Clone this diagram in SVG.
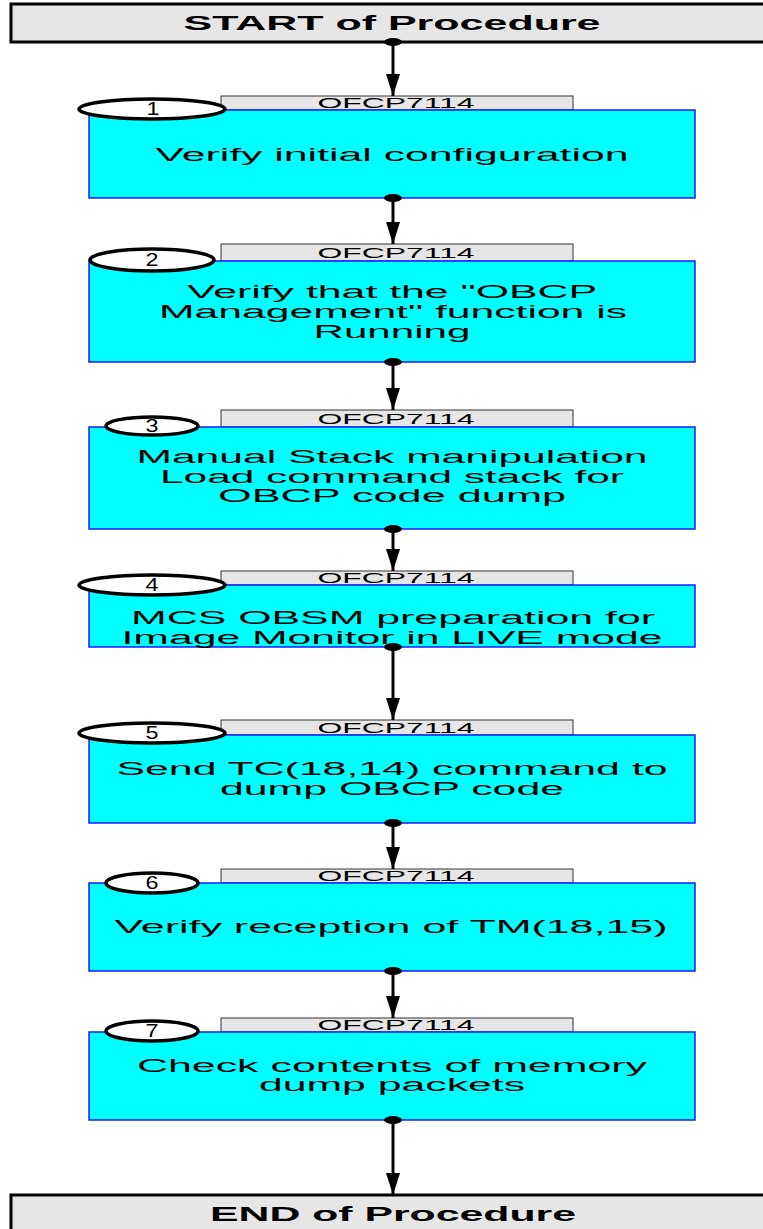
<svg xmlns="http://www.w3.org/2000/svg" width="763" height="1229" viewBox="0 0 763 1229">
<defs>
<marker id="ah" markerWidth="24" markerHeight="14" refX="22" refY="7" orient="auto" markerUnits="userSpaceOnUse">
<path d="M0,0 L22,7 L0,14 Z" fill="#000"/>
</marker>
<style>
.term{fill:#e6e6e6;stroke:#000;stroke-width:3}
.termt{font-family:"Liberation Sans",Arial,sans-serif;font-weight:bold;font-size:20px;text-anchor:middle;fill:#000}
.tab{fill:#e6e6e6;stroke:#333;stroke-width:1}
.tabt{font-family:"Liberation Sans",Arial,sans-serif;font-size:14px;text-anchor:middle;fill:#000}
.box{fill:#00ffff;stroke:#1a1aff;stroke-width:1.5}
.bt{font-family:"Liberation Sans",Arial,sans-serif;font-size:18px;text-anchor:middle;fill:#000}
.num{fill:#fff;stroke:#000;stroke-width:3.5}
.numt{font-family:"Liberation Sans",Arial,sans-serif;font-size:18px;text-anchor:middle;fill:#000}
.con{stroke:#000;stroke-width:3;fill:none}
.dot{fill:#000}
</style>
</defs>

<g id="start">
<rect class="term" x="11" y="4" width="760" height="38"/>
<text class="termt" x="392" y="30" textLength="417" lengthAdjust="spacingAndGlyphs">START of Procedure</text>
</g>

<g id="node1">
<rect class="tab" x="221" y="96" width="352" height="14"/>
<text class="tabt" x="396" y="108" textLength="157" lengthAdjust="spacingAndGlyphs">OFCP7114</text>
<rect class="box" x="89" y="110" width="606" height="88"/>
<text class="bt" x="392" y="161" textLength="473" lengthAdjust="spacingAndGlyphs">Verify initial configuration</text>
<ellipse class="num" cx="152" cy="109" rx="73" ry="10"/>
<text class="numt" x="153" y="115" textLength="13" lengthAdjust="spacingAndGlyphs">1</text>
</g>

<g id="node2">
<rect class="tab" x="221" y="244" width="352" height="17"/>
<text class="tabt" x="396" y="258" textLength="157" lengthAdjust="spacingAndGlyphs">OFCP7114</text>
<rect class="box" x="89" y="261" width="606" height="101"/>
<text class="bt" x="392" y="298" textLength="410" lengthAdjust="spacingAndGlyphs">Verify that the "OBCP</text>
<text class="bt" x="393" y="318" textLength="468" lengthAdjust="spacingAndGlyphs">Management" function is</text>
<text class="bt" x="392" y="338" textLength="157" lengthAdjust="spacingAndGlyphs">Running</text>
<ellipse class="num" cx="152" cy="260" rx="62" ry="11"/>
<text class="numt" x="152" y="266" textLength="13" lengthAdjust="spacingAndGlyphs">2</text>
</g>

<g id="node3">
<rect class="tab" x="221" y="410" width="352" height="17"/>
<text class="tabt" x="396" y="424" textLength="157" lengthAdjust="spacingAndGlyphs">OFCP7114</text>
<rect class="box" x="89" y="427" width="606" height="102"/>
<text class="bt" x="392" y="463" textLength="511" lengthAdjust="spacingAndGlyphs">Manual Stack manipulation</text>
<text class="bt" x="392" y="483" textLength="464" lengthAdjust="spacingAndGlyphs">Load command stack for</text>
<text class="bt" x="392" y="502" textLength="348" lengthAdjust="spacingAndGlyphs">OBCP code dump</text>
<ellipse class="num" cx="152" cy="426" rx="46" ry="9"/>
<text class="numt" x="152" y="432" textLength="13" lengthAdjust="spacingAndGlyphs">3</text>
</g>

<g id="node4">
<rect class="tab" x="221" y="571" width="352" height="14"/>
<text class="tabt" x="396" y="583" textLength="157" lengthAdjust="spacingAndGlyphs">OFCP7114</text>
<rect class="box" x="89" y="585" width="606" height="62"/>
<text class="bt" x="393" y="624" textLength="524" lengthAdjust="spacingAndGlyphs">MCS OBSM preparation for</text>
<text class="bt" x="392" y="644" textLength="541" lengthAdjust="spacingAndGlyphs">Image Monitor in LIVE mode</text>
<ellipse class="num" cx="152" cy="585" rx="73" ry="10"/>
<text class="numt" x="152" y="591" textLength="13" lengthAdjust="spacingAndGlyphs">4</text>
</g>

<g id="node5">
<rect class="tab" x="221" y="720" width="352" height="15"/>
<text class="tabt" x="396" y="733" textLength="157" lengthAdjust="spacingAndGlyphs">OFCP7114</text>
<rect class="box" x="89" y="735" width="606" height="88"/>
<text class="bt" x="392" y="775" textLength="551" lengthAdjust="spacingAndGlyphs">Send TC(18,14) command to</text>
<text class="bt" x="392" y="795" textLength="344" lengthAdjust="spacingAndGlyphs">dump OBCP code</text>
<ellipse class="num" cx="152" cy="733" rx="73" ry="10"/>
<text class="numt" x="152" y="739" textLength="13" lengthAdjust="spacingAndGlyphs">5</text>
</g>

<g id="node6">
<rect class="tab" x="221" y="869" width="352" height="14"/>
<text class="tabt" x="396" y="881" textLength="157" lengthAdjust="spacingAndGlyphs">OFCP7114</text>
<rect class="box" x="89" y="883" width="606" height="88"/>
<text class="bt" x="391" y="933" textLength="553" lengthAdjust="spacingAndGlyphs">Verify reception of TM(18,15)</text>
<ellipse class="num" cx="152" cy="883" rx="46" ry="10"/>
<text class="numt" x="152" y="889" textLength="13" lengthAdjust="spacingAndGlyphs">6</text>
</g>

<g id="node7">
<rect class="tab" x="221" y="1018" width="352" height="14"/>
<text class="tabt" x="396" y="1030" textLength="157" lengthAdjust="spacingAndGlyphs">OFCP7114</text>
<rect class="box" x="89" y="1032" width="606" height="88"/>
<text class="bt" x="392" y="1072" textLength="510" lengthAdjust="spacingAndGlyphs">Check contents of memory</text>
<text class="bt" x="392" y="1091" textLength="266" lengthAdjust="spacingAndGlyphs">dump packets</text>
<ellipse class="num" cx="152" cy="1031" rx="46" ry="10"/>
<text class="numt" x="152" y="1037" textLength="13" lengthAdjust="spacingAndGlyphs">7</text>
</g>

<g id="end">
<rect class="term" x="11" y="1195" width="760" height="40"/>
<text class="termt" x="393" y="1221" textLength="366" lengthAdjust="spacingAndGlyphs">END of Procedure</text>
</g>

<g id="connectors">
<line class="con" x1="393" y1="42" x2="393" y2="96" marker-end="url(#ah)"/>
<line class="con" x1="393" y1="198" x2="393" y2="244" marker-end="url(#ah)"/>
<line class="con" x1="393" y1="362" x2="393" y2="410" marker-end="url(#ah)"/>
<line class="con" x1="393" y1="529" x2="393" y2="571" marker-end="url(#ah)"/>
<line class="con" x1="393" y1="647" x2="393" y2="720" marker-end="url(#ah)"/>
<line class="con" x1="393" y1="823" x2="393" y2="869" marker-end="url(#ah)"/>
<line class="con" x1="393" y1="971" x2="393" y2="1018" marker-end="url(#ah)"/>
<line class="con" x1="393" y1="1120" x2="393" y2="1195" marker-end="url(#ah)"/>
<ellipse class="dot" cx="393" cy="42" rx="9" ry="4"/>
<ellipse class="dot" cx="393" cy="198" rx="9" ry="4"/>
<ellipse class="dot" cx="393" cy="362" rx="9" ry="4"/>
<ellipse class="dot" cx="393" cy="529" rx="9" ry="4"/>
<ellipse class="dot" cx="393" cy="647" rx="9" ry="4"/>
<ellipse class="dot" cx="393" cy="823" rx="9" ry="4"/>
<ellipse class="dot" cx="393" cy="971" rx="9" ry="4"/>
<ellipse class="dot" cx="393" cy="1120" rx="9" ry="4"/>
</g>
</svg>
